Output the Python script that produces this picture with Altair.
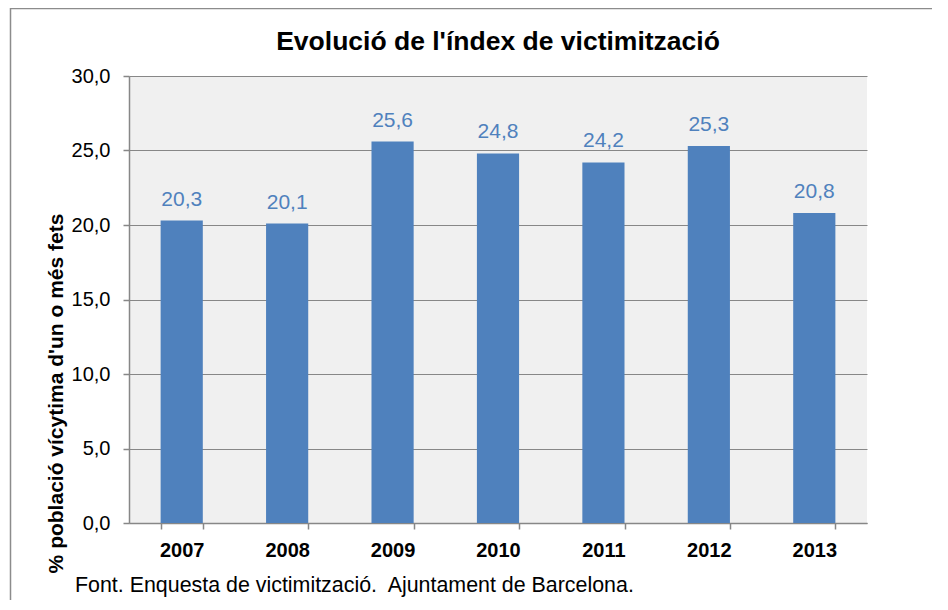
import altair as alt
import pandas as pd

years = ["2007", "2008", "2009", "2010", "2011", "2012", "2013"]
values = [20.3, 20.1, 25.6, 24.8, 24.2, 25.3, 20.8]
y_ticks = [0, 5, 10, 15, 20, 25, 30]
title_text = "Evolució de l'índex de victimització"
y_title = "% població vícytima d'un o més fets"
source_note = "Font. Enquesta de victimització.\u00a0 Ajuntament de Barcelona."

df = pd.DataFrame({"year": years, "value": values})
df["label"] = [f"{v:.1f}".replace(".", ",") for v in values]

FONT = "Liberation Sans"
GRAY = "#878787"
BLUE = "#4F81BD"
W, H = 738, 447

x_enc = alt.X(
    "year:N",
    sort=years,
    scale=alt.Scale(paddingInner=0.6, paddingOuter=0.3),
    axis=alt.Axis(
        title=None, labelAngle=0, labelFont=FONT, labelFontSize=20,
        labelFontWeight="bold", labelColor="black", labelBaseline="alphabetic",
        labelPadding=27, tickBand="extent", tickSize=6, tickColor=GRAY,
        tickWidth=1.5, domainColor=GRAY, domainWidth=1.5, grid=False,
    ),
)
y_enc = alt.Y(
    "value:Q",
    scale=alt.Scale(domain=[0, 30], nice=False),
    axis=alt.Axis(
        values=y_ticks,
        labelExpr="replace(format(datum.value, '.1f'), '.', ',')",
        labelFont=FONT, labelFontSize=20, labelColor="black", labelPadding=13,
        tickSize=6, tickColor=GRAY, tickWidth=1.5,
        domainColor=GRAY, domainWidth=1.5,
        grid=True, gridColor=GRAY, gridWidth=1.2,
        title=y_title, titleX=-67, titleY=317, titleAngle=-90,
        titleBaseline="alphabetic", titleAlign="center",
        titleFont=FONT, titleFontSize=21, titleFontWeight="bold", titleColor="black",
    ),
)

base = alt.Chart(df)
bars = base.mark_bar(color=BLUE).encode(x=x_enc, y=y_enc)
labels = base.mark_text(
    font=FONT, fontSize=21, color=BLUE, baseline="alphabetic", dy=-15
).encode(x=alt.X("year:N", sort=years), y="value:Q", text="label:N")

frame = alt.Chart(pd.DataFrame({"a": [0]})).mark_rect(
    fillOpacity=0, stroke="#8C8C8C", strokeWidth=1.5
).encode(
    x=alt.value(-118.5), x2=alt.value(W + 300),
    y=alt.value(-67.5), y2=alt.value(H + 300),
)

title = alt.Chart(pd.DataFrame({"t": [title_text]})).mark_text(
    font=FONT, fontSize=26.5, fontWeight="bold", color="black",
    align="center", baseline="alphabetic"
).encode(x=alt.value(W / 2), y=alt.value(-26), text="t:N")

footer = alt.Chart(pd.DataFrame({"t": [source_note]})).mark_text(
    font=FONT, fontSize=21.4, color="black", align="left", baseline="alphabetic"
).encode(x=alt.value(-54), y=alt.value(516), text="t:N")

chart = alt.layer(bars, labels, title, footer, frame).properties(
    width=W, height=H,
    autosize=alt.AutoSizeParams(type="none"),
    padding={"left": 121, "top": 68, "right": 65, "bottom": 77},
).configure_view(fill="#F0F0F0", strokeWidth=0)

chart.save("out.html", embed_options={"renderer": "svg", "actions": False})
